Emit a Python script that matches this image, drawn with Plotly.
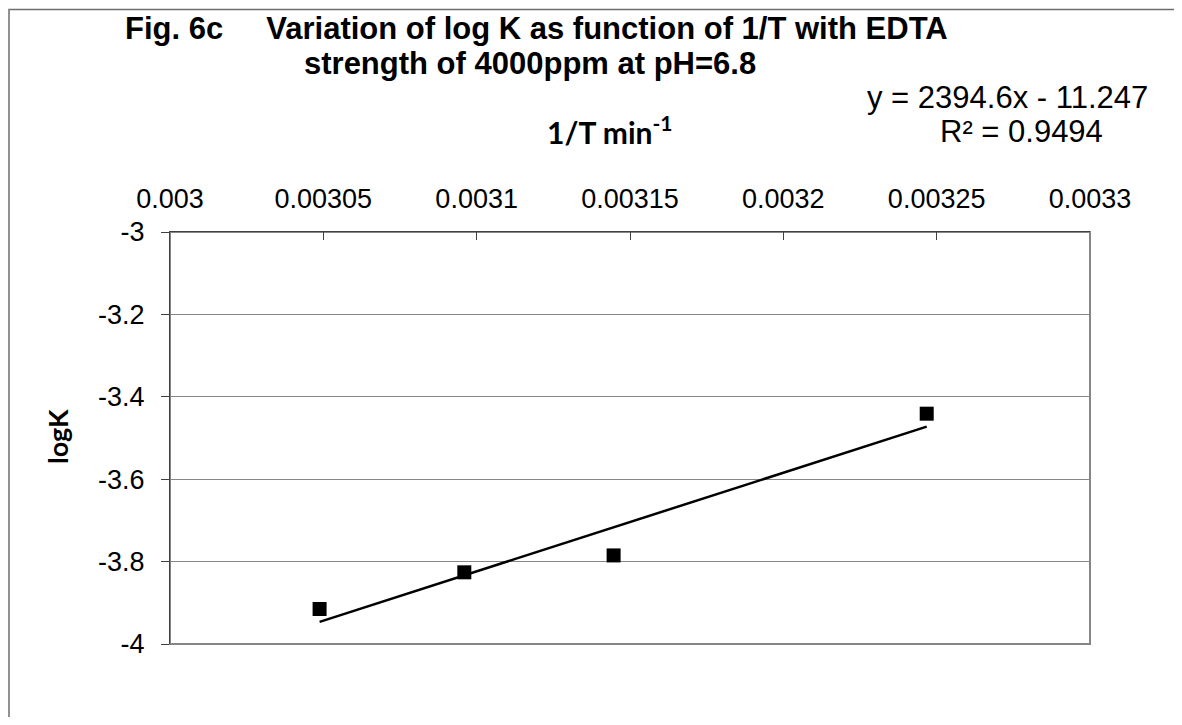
import plotly.graph_objects as go

# Data
temps_K = [328, 323, 318, 308]
inv_T = [1.0 / t for t in temps_K]
log_k = [-3.915, -3.826, -3.785, -3.441]
slope = 2394.6
intercept = -11.247
x_ticks = [0.003, 0.00305, 0.0031, 0.00315, 0.0032, 0.00325, 0.0033]
x_tick_labels = ["0.003", "0.00305", "0.0031", "0.00315", "0.0032", "0.00325", "0.0033"]
y_ticks = [-3, -3.2, -3.4, -3.6, -3.8, -4]
y_tick_labels = ["-3", "-3.2", "-3.4", "-3.6", "-3.8", "-4"]

# figure sized to fit the window with the page's default 8px body margin
W, H = 1166, 709
OFF = 8
L, R, T, B = 162, 1082, 224, 636


def px(page_x):
    return (page_x - OFF - L) / (R - L)


def py(page_y):
    return (B - (page_y - OFF)) / (B - T)


trend_x = [min(inv_T), max(inv_T)]
trend_y = [slope * v + intercept for v in trend_x]

fig = go.Figure()
fig.add_trace(go.Scatter(x=trend_x, y=trend_y, mode="lines",
                         line=dict(color="black", width=2.5), showlegend=False,
                         hoverinfo="skip"))
fig.add_trace(go.Scatter(x=inv_T, y=log_k, mode="markers",
                         marker=dict(symbol="square", size=14, color="black"),
                         showlegend=False))

arial = "Liberation Sans, Arial, sans-serif"
calib = "Lato, Open Sans, sans-serif"


def ann(text, x, y, size, family, bold=False, angle=0):
    return dict(text=text, xref="paper", yref="paper", x=px(x), y=py(y),
                xanchor="center", yanchor="middle", showarrow=False, textangle=angle,
                font=dict(family=family, size=size, color="black",
                          weight="bold" if bold else "normal"))


sp = "\u00a0" * 5

fig.update_layout(
    width=W, height=H,
    margin=dict(l=L, r=W - R, t=T, b=H - B),
    paper_bgcolor="white", plot_bgcolor="white",
    xaxis=dict(range=[0.003, 0.0033], side="top", tickvals=x_ticks, ticktext=x_tick_labels,
               ticks="inside", ticklen=8, tickcolor="#404040", tickwidth=1,
               ticklabelstandoff=12,
               showgrid=False, zeroline=False, showline=True, linecolor="#404040", linewidth=1,
               tickfont=dict(family=arial, size=27, color="black")),
    yaxis=dict(range=[-4, -3], tickvals=y_ticks, ticktext=y_tick_labels,
               ticks="outside", ticklen=8, tickcolor="#404040", tickwidth=1,
               ticklabelstandoff=11,
               showgrid=True, gridcolor="#868686", gridwidth=1, zeroline=False,
               showline=True, linecolor="#404040", linewidth=1,
               tickfont=dict(family=arial, size=27, color="black")),
    shapes=[
        dict(type="rect", xref="paper", yref="paper", x0=0, x1=1, y0=0, y1=1,
             line=dict(color="#868686", width=2), layer="below"),
        dict(type="rect", xref="paper", yref="paper", x0=px(9), x1=px(1400), y0=py(1000), y1=py(9.5),
             line=dict(color="#6e6e6e", width=1.5), layer="below"),
    ],
    annotations=[
        ann("Fig. 6c" + sp + "Variation of log K as function of 1/T with EDTA", 536, 28, 31, arial, True),
        ann("strength of 4000ppm at pH=6.8", 530, 64, 31, arial, True),
        ann("1/T min<sup>-1</sup>", 609, 130, 30, calib, True),
        ann("y = 2394.6x - 11.247", 1007, 97, 31, arial),
        ann("R² = 0.9494", 1021, 131, 31, arial),
        ann("logK", 57, 437, 27, calib, True, -90),
    ],
)

fig.write_html("out.html")
